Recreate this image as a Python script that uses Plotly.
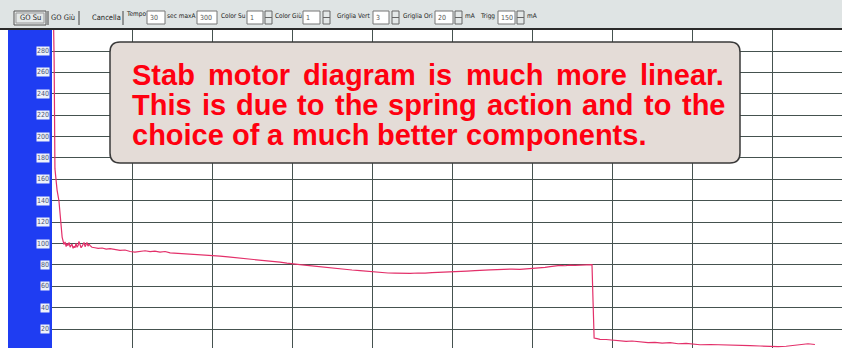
import plotly.graph_objects as go

W, H = 842, 348

# ---- data (time in s, current in mA) ----
time_s = [0.04, 0.08, 0.11, 0.19, 0.26, 0.30, 0.34, 0.38, 0.41, 0.45, 0.49, 0.53, 0.56, 0.60, 0.64, 0.68,
          0.71, 0.75, 0.79, 0.83, 0.86, 0.90, 0.94, 0.98, 1.01, 1.05, 1.09, 1.13, 1.16, 1.20, 1.24, 1.28,
          1.31, 1.35, 1.39, 1.43, 1.50, 1.61, 1.73, 1.88, 2.03, 2.18, 2.36, 2.55, 2.74, 2.93, 3.11, 3.30,
          3.49, 3.68, 3.86, 4.05, 4.24, 4.43, 4.61, 4.80, 4.99, 5.18, 5.36, 5.55, 5.74, 6.04, 6.30, 6.60,
          6.86, 7.16, 7.43, 7.73, 7.99, 8.25, 8.55, 8.81, 9.00, 9.30, 9.56, 9.86, 10.13, 10.43, 10.73,
          10.99, 11.25, 11.55, 11.81, 12.04, 12.30, 12.60, 12.86, 13.13, 13.43, 13.73, 13.99, 14.25,
          14.55, 14.81, 15.04, 15.30, 15.56, 15.86, 16.13, 16.43, 16.69, 16.99, 17.25, 17.55, 17.81,
          18.08, 18.30, 18.49, 18.68, 18.86, 19.05, 19.24, 19.43, 19.61, 19.80, 20.03, 20.25, 20.29,
          20.33, 20.44, 20.55, 20.78, 21.08, 21.30, 21.53, 21.75, 22.05, 22.35, 22.61, 22.88, 23.18,
          23.48, 23.78, 24.08, 24.30, 24.68, 25.05, 25.43, 25.80, 26.18, 26.55, 26.93, 27.23, 27.53,
          27.86, 28.13, 28.35, 28.61]
current_mA = [335, 272, 170, 150, 140, 128, 115, 106, 103, 99, 101.5, 97, 100, 98, 101, 96.5,
              98, 99.5, 95.5, 97.5, 96, 100, 96.5, 98, 102, 98.5, 96, 97.5, 100, 101, 97, 99,
              101, 97.5, 99.5, 98, 96.5, 96, 95.5, 95.8, 94.8, 95.2, 94.5, 93.6, 93.9, 92.5, 92, 92.8,
              93.2, 92.4, 92.8, 92, 92.5, 91.3, 91, 90.6, 90.9, 90, 89.7, 89.8, 89.2, 88.5, 88.2, 87.5,
              86.9, 86.3, 85.2, 84.8, 83.7, 83.2, 82.5, 81.6, 80.8, 80.2, 79.6, 78.7, 78.1, 77.6, 76.7,
              76, 75.2, 74.7, 74, 73.5, 73, 72.4, 72.2, 71.9, 72, 72.4, 72.2, 72.8,
              73, 73.1, 73.5, 73.7, 74.2, 74.6, 74.6, 75.3, 75.5, 75.9, 76.1, 75.8, 76.3,
              76.6, 76.8, 77.7, 78.4, 78.9, 79.5, 79.2, 79.8, 79.5, 79.7, 80, 80.2, 45,
              11.5, 11, 10.4, 10.2, 9.5, 9.6, 8.5, 8.8, 7.7, 7.2, 7.6, 6.8, 7.2,
              6.2, 6.5, 5.8, 5.3, 5.5, 5.4, 5.1, 4.8, 4.4, 4.1, 3.6, 3.5, 3.9,
              4.6, 5.8, 6.2, 5.5]

y_tick_values = [20, 40, 60, 80, 100, 120, 140, 160, 180, 200, 220, 240, 260, 280]
y_tick_labels = ["20", "40", "60", "80", "100", "120", "140", "160", "180", "200", "220", "240", "260", "280"]

note_lines = ["Stab motor diagram is much more linear.",
              "This is due to the spring action and to the",
              "choice of a much better components."]

toolbar_buttons = ["GO Su", "GO Giù", "Cancella"]
toolbar_labels = ["Tempo", "sec maxA", "Color Su", "Color Giù", "Griglia Vert", "Griglia Ori", "mA", "Trigg", "mA"]
toolbar_inputs = ["30", "300", "1", "1", "3", "20", "150"]

# ---- helpers (pixel -> paper) ----
def px(x):
    return x / W

def py(y):
    return 1 - y / H

shapes = []
annotations = []
NARROW = "Liberation Sans Narrow, DejaVu Sans Condensed, Liberation Sans, sans-serif"

def rect(x0, y0, x1, y1, fill, line="rgba(0,0,0,0)", lw=0, layer="above"):
    shapes.append(dict(type="rect", xref="paper", yref="paper", x0=px(x0), x1=px(x1),
                       y0=py(y1), y1=py(y0), fillcolor=fill, line=dict(color=line, width=lw), layer=layer))

def hline(x0, x1, y, color, lw=1):
    shapes.append(dict(type="line", xref="paper", yref="paper", x0=px(x0), x1=px(x1), y0=py(y), y1=py(y),
                       line=dict(color=color, width=lw), layer="above"))

def vline(x, y0, y1, color, lw=1):
    shapes.append(dict(type="line", xref="paper", yref="paper", x0=px(x), x1=px(x), y0=py(y0), y1=py(y1),
                       line=dict(color=color, width=lw), layer="above"))

def text(x, y, s, size=7, color="#222", anchor="center", family=NARROW):
    annotations.append(dict(xref="paper", yref="paper", x=px(x), y=py(y), text=s, borderpad=0,
                            showarrow=False, xanchor=anchor, yanchor="middle",
                            font=dict(size=size, color=color, family=family)))

# ---- toolbar ----
rect(0, 0, W, 28, "#dfe4e4")
hline(0, W, 29, "#2a2a2a", 2)
# buttons
rect(14, 11, 46, 25, "#e4e8e8", "#555", 1)
rect(16, 13, 44, 23, "#e4e8e8", "#999", 1)
text(30, 18, toolbar_buttons[0], size=7.5)
text(63, 18, toolbar_buttons[1], size=7.5)
vline(79, 11, 25, "#444", 1)
vline(48, 11, 25, "#444", 1)
text(106, 18, toolbar_buttons[2], size=7.5)
vline(123, 11, 25, "#444", 1)

# labels
lab_pos = [(125, 14), (166, 16), (220, 16), (274, 16), (336, 16), (402, 16), (464, 16), (479, 16), (526, 16)]
for (x, y), s in zip(lab_pos, toolbar_labels):
    text(x, y, s, size=6.5, anchor="left")

# input boxes
inp_pos = [(147, 165), (197, 217), (247, 263), (303, 320), (373, 389), (435, 453), (498, 515)]
for (x0, x1), s in zip(inp_pos, toolbar_inputs):
    rect(x0, 11, x1, 24, "#ffffff", "#777", 1)
    text(x0 + 2, 18, s, size=7, anchor="left", color="#555")

# spinners
for x0 in [265, 323, 392, 455, 517]:
    rect(x0, 11, x0 + 7, 24, "#e4e8e8", "#666", 1)
    hline(x0, x0 + 7, 17.5, "#666", 1)

# ---- left blue panel ----
rect(0, 30, 8, H, "#ffffff", layer="below")
rect(8, 30, 52, H, "#1f3df2", layer="below")

# y tick labels (small white boxes)
for v, s in zip(y_tick_values, y_tick_labels):
    annotations.append(dict(xref="paper", yref="y", x=px(49.5), y=v, text=s, showarrow=False,
                            xanchor="right", yanchor="middle", bgcolor="#eef2fb", borderpad=0,
                            font=dict(size=7, color="#4a5578", family="DejaVu Sans Condensed, sans-serif")))

# ---- note box (rounded rectangle) ----
bx0, by0, bx1, by1, r = 110, 42, 740, 163, 10
def P(x, y):
    return f"{px(x):.6f},{py(y):.6f}"
path = (f"M {P(bx0 + r, by0)} L {P(bx1 - r, by0)} Q {P(bx1, by0)} {P(bx1, by0 + r)} "
        f"L {P(bx1, by1 - r)} Q {P(bx1, by1)} {P(bx1 - r, by1)} L {P(bx0 + r, by1)} "
        f"Q {P(bx0, by1)} {P(bx0, by1 - r)} L {P(bx0, by0 + r)} Q {P(bx0, by0)} {P(bx0 + r, by0)} Z")
shapes.append(dict(type="path", xref="paper", yref="paper", path=path, fillcolor="#e4dcd7",
                   line=dict(color="#3a3a3a", width=1.5), layer="above"))

# Arial Bold advance widths (per 1000 em) for justification of the note
AW = {" ": 278, ".": 278, "a": 556, "b": 611, "c": 556, "d": 611, "e": 556, "f": 333, "g": 611, "h": 611,
      "i": 278, "l": 278, "m": 889, "n": 611, "o": 611, "p": 611, "r": 389, "s": 556, "t": 333, "u": 611,
      "S": 667, "T": 611}
FS = 29
def wlen(w):
    return sum(AW.get(c, 556) for c in w) * FS / 1000.0

left, right = 132, 725
line_y = [75, 105, 135]
for i, (ln, yy) in enumerate(zip(note_lines, line_y)):
    words = ln.split(" ")
    widths = [wlen(w) for w in words]
    if i < 2:
        gap = (right - left - sum(widths)) / (len(words) - 1)
    else:
        gap = wlen(" ")
    x = left
    for w, wd in zip(words, widths):
        annotations.append(dict(xref="paper", yref="paper", x=px(x - 1), y=py(yy), text=f"<b>{w}</b>",
                                showarrow=False, xanchor="left", yanchor="middle", borderpad=0,
                                font=dict(size=FS, color="#ff0010", family="Liberation Sans, Arial, sans-serif")))
        x += wd + gap

# ---- figure ----
fig = go.Figure()
fig.add_trace(go.Scatter(x=time_s, y=current_mA, mode="lines",
                         line=dict(color="#e3306a", width=1.2), hoverinfo="skip"))

x_max = (W - 52) * 3 / 80.0
y_top_px, y_bot_px = 30, H
y_per_px = 20 / 21.38
y_min = (350.4 - y_bot_px) * y_per_px
y_max = (350.4 - y_top_px) * y_per_px

fig.update_layout(
    width=W, height=H, margin=dict(l=0, r=0, t=0, b=0),
    paper_bgcolor="#ffffff", plot_bgcolor="#ffffff", showlegend=False,
    xaxis=dict(domain=[px(52), 1], range=[0, x_max], dtick=3, tick0=0, showgrid=True,
               gridcolor="#45524f", gridwidth=1, showticklabels=False, zeroline=False, ticks="",
               showline=False, fixedrange=True),
    yaxis=dict(domain=[0, py(y_top_px)], range=[y_min, y_max], dtick=20, tick0=0, showgrid=True,
               gridcolor="#45524f", gridwidth=1, showticklabels=False, zeroline=False, ticks="",
               showline=False, fixedrange=True),
    shapes=shapes, annotations=annotations,
)

fig.write_html("out.html")
